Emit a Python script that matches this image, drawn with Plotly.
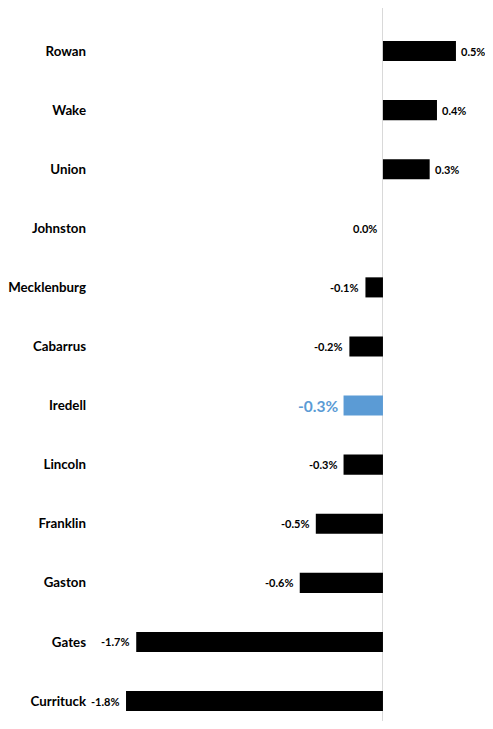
import plotly.graph_objects as go

counties = ["Rowan", "Wake", "Union", "Johnston", "Mecklenburg", "Cabarrus",
            "Iredell", "Lincoln", "Franklin", "Gaston", "Gates", "Currituck"]
values = [0.50, 0.37, 0.32, 0.0, -0.12, -0.23, -0.27, -0.27, -0.46, -0.57, -1.69, -1.76]
labels = ["0.5%", "0.4%", "0.3%", "0.0%", "-0.1%", "-0.2%", "-0.3%", "-0.3%",
          "-0.5%", "-0.6%", "-1.7%", "-1.8%"]
highlight = "Iredell"

BLACK = "#000000"
BLUE = "#5B9BD5"
colors = [BLUE if c == highlight else BLACK for c in counties]

fig = go.Figure(go.Bar(
    x=values, y=counties, orientation="h",
    marker=dict(color=colors, line=dict(width=0)),
    width=0.34, hoverinfo="skip",
))

for c, v, t in zip(counties, values, labels):
    hl = c == highlight
    fig.add_annotation(
        x=v, y=c, xref="x", yref="y", text=t, showarrow=False,
        xanchor="left" if v > 0 else "right",
        xshift=3 if v > 0 else -4,
        font=dict(family="Lato", size=15.5 if hl else 11,
                  color=BLUE if hl else BLACK, weight="bold"),
    )

fig.update_layout(
    width=477, height=713,
    margin=dict(l=84, r=0, t=0, b=0),
    paper_bgcolor="white", plot_bgcolor="white",
    showlegend=False,
    xaxis=dict(range=[-1.993, 0.699], showgrid=False, showticklabels=False,
               zeroline=True, zerolinecolor="#d9d9d9", zerolinewidth=1,
               fixedrange=True),
    yaxis=dict(type="category", categoryorder="array", categoryarray=counties,
               range=[11.338, -0.728], showgrid=False, ticks="",
               ticklabelstandoff=5, automargin=False,
               tickfont=dict(family="Lato", size=13.3, color="#000000", weight="bold"),
               zeroline=False, showline=False, fixedrange=True),
)

fig.write_html("out.html")
